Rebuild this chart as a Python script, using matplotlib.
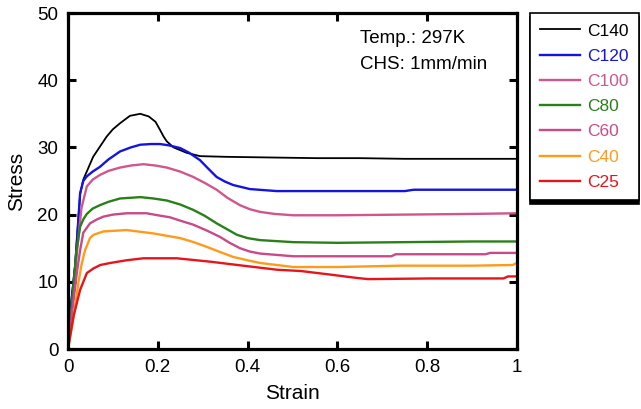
import matplotlib
matplotlib.use("Agg")
import matplotlib.pyplot as plt

plt.rcParams['font.family'] = ['Liberation Sans', 'DejaVu Sans']

# ---- data ----
labels = ["C140", "C120", "C100", "C80", "C60", "C40", "C25"]
colors = ["#000000", "#1414e0", "#d0568e", "#2a8018", "#c94a8a", "#ff9a1a", "#e8141c"]

c140_strain = [0, 0.008, 0.016, 0.027, 0.034, 0.045, 0.056, 0.07, 0.086, 0.1, 0.116, 0.138, 0.161,
               0.18, 0.195, 0.205, 0.213, 0.22, 0.235, 0.264, 0.294, 0.35, 0.45, 0.554, 0.65, 0.75, 0.85, 1.0]
c140_stress = [0, 7.5, 12.8, 23.0, 25.2, 26.9, 28.6, 30.0, 31.6, 32.7, 33.6, 34.7, 35.0,
               34.6, 33.8, 32.6, 31.6, 30.9, 30.0, 29.2, 28.7, 28.6, 28.5, 28.4, 28.4, 28.3, 28.3, 28.3]

c120_strain = [0, 0.008, 0.016, 0.027, 0.034, 0.042, 0.055, 0.071, 0.09, 0.116, 0.14, 0.161, 0.185,
               0.205, 0.225, 0.25, 0.27, 0.294, 0.31, 0.331, 0.35, 0.368, 0.405, 0.465, 0.6, 0.75, 0.77, 1.0]
c120_stress = [0, 7.3, 12.2, 23.2, 25.0, 25.7, 26.4, 27.1, 28.2, 29.4, 30.0, 30.4, 30.5,
               30.5, 30.3, 29.9, 29.2, 28.1, 27.0, 25.6, 24.9, 24.4, 23.8, 23.5, 23.5, 23.5, 23.7, 23.7]

c100_strain = [0, 0.01, 0.02, 0.03, 0.042, 0.055, 0.071, 0.09, 0.116, 0.14, 0.168, 0.195, 0.22, 0.25,
               0.279, 0.305, 0.331, 0.355, 0.383, 0.405, 0.428, 0.46, 0.502, 0.6, 0.75, 0.9, 1.0]
c100_stress = [0, 7.0, 14.5, 21.0, 24.2, 25.2, 25.9, 26.5, 27.0, 27.3, 27.5, 27.3, 27.0, 26.4,
               25.6, 24.7, 23.7, 22.5, 21.4, 20.8, 20.4, 20.1, 19.9, 19.9, 20.0, 20.1, 20.2]

c80_strain = [0, 0.01, 0.019, 0.027, 0.035, 0.042, 0.055, 0.071, 0.09, 0.116, 0.161, 0.19, 0.22, 0.25,
              0.279, 0.305, 0.331, 0.355, 0.376, 0.4, 0.428, 0.502, 0.6, 0.75, 0.9, 1.0]
c80_stress = [0, 7.5, 14.7, 18.2, 19.4, 20.1, 20.9, 21.4, 21.9, 22.4, 22.6, 22.4, 22.1, 21.5,
              20.7, 19.8, 18.7, 17.8, 17.0, 16.5, 16.2, 15.9, 15.8, 15.9, 16.0, 16.0]

c60_strain = [0, 0.012, 0.02, 0.027, 0.034, 0.049, 0.065, 0.079, 0.1, 0.131, 0.175, 0.2, 0.227, 0.25,
              0.279, 0.31, 0.338, 0.36, 0.383, 0.405, 0.428, 0.502, 0.6, 0.72, 0.73, 0.93, 0.94, 1.0]
c60_stress = [0, 7.0, 11.5, 14.7, 17.3, 18.7, 19.3, 19.7, 20.0, 20.2, 20.2, 19.9, 19.6, 19.1,
              18.5, 17.6, 16.7, 15.8, 15.0, 14.5, 14.2, 13.8, 13.8, 13.8, 14.1, 14.1, 14.3, 14.3]

c40_strain = [0, 0.012, 0.023, 0.03, 0.038, 0.049, 0.057, 0.079, 0.131, 0.19, 0.25, 0.28, 0.309,
              0.34, 0.368, 0.4, 0.428, 0.502, 0.6, 0.74, 0.9, 0.99, 1.0]
c40_stress = [0, 4.5, 9.8, 12.5, 14.7, 16.5, 17.0, 17.5, 17.7, 17.2, 16.5, 15.9, 15.2,
              14.4, 13.7, 13.2, 12.8, 12.2, 12.2, 12.4, 12.4, 12.5, 12.8]

c25_strain = [0, 0.012, 0.027, 0.042, 0.057, 0.072, 0.094, 0.13, 0.168, 0.242, 0.316, 0.39, 0.465,
              0.519, 0.593, 0.64, 0.668, 0.81, 0.97, 0.98, 1.0]
c25_stress = [0, 4.8, 8.8, 11.3, 12.0, 12.5, 12.8, 13.2, 13.5, 13.5, 13.0, 12.4, 11.8,
              11.6, 11.0, 10.6, 10.4, 10.5, 10.5, 10.8, 10.8]

strains = [c140_strain, c120_strain, c100_strain, c80_strain, c60_strain, c40_strain, c25_strain]
stresses = [c140_stress, c120_stress, c100_stress, c80_stress, c60_stress, c40_stress, c25_stress]

xticks = [0, 0.2, 0.4, 0.6, 0.8, 1.0]
xticklabels = ["0", "0.2", "0.4", "0.6", "0.8", "1"]
yticks = [0, 10, 20, 30, 40, 50]

# ---- figure ----
fig = plt.figure(figsize=(6.41, 4.09), dpi=100)
ax = fig.add_axes([68 / 641, 1 - 349 / 409, (517 - 68) / 641, (349 - 13) / 409])

for x, y, lab, c in zip(strains, stresses, labels, colors):
    lw = 1.3 if lab == "C140" else 1.7
    ax.plot(x, y, color=c, lw=lw, label=lab)

ax.set_xlim(0, 1)
ax.set_ylim(0, 50)
ax.set_xticks(xticks)
ax.set_xticklabels(xticklabels)
ax.set_yticks(yticks)
ax.tick_params(direction='in', length=6, width=2.2, labelsize=13.5,
               top=True, right=True, pad=7)
for s in ax.spines.values():
    s.set_linewidth(2.3)

ax.set_xlabel("Strain", fontsize=15, labelpad=6)
ax.set_ylabel("Stress", fontsize=15, labelpad=8)

ax.text(0.65, 0.925, "Temp.: 297K", transform=ax.transAxes, fontsize=13.5, va='center')
ax.text(0.65, 0.848, "CHS: 1mm/min", transform=ax.transAxes, fontsize=13.5, va='center')

leg = fig.legend(loc='upper left', bbox_to_anchor=(530 / 641, 1 - 13 / 409),
                 fontsize=12.5, labelcolor='linecolor', frameon=True, fancybox=False,
                 shadow={'color': 'black', 'alpha': 1.0, 'ox': 0, 'oy': -3},
                 edgecolor='black',
                 handlelength=2.3, handletextpad=0.4, labelspacing=0.58,
                 borderpad=0.6, borderaxespad=0)
leg.get_frame().set_linewidth(1.2)

fig.savefig("out.png", dpi=100)
